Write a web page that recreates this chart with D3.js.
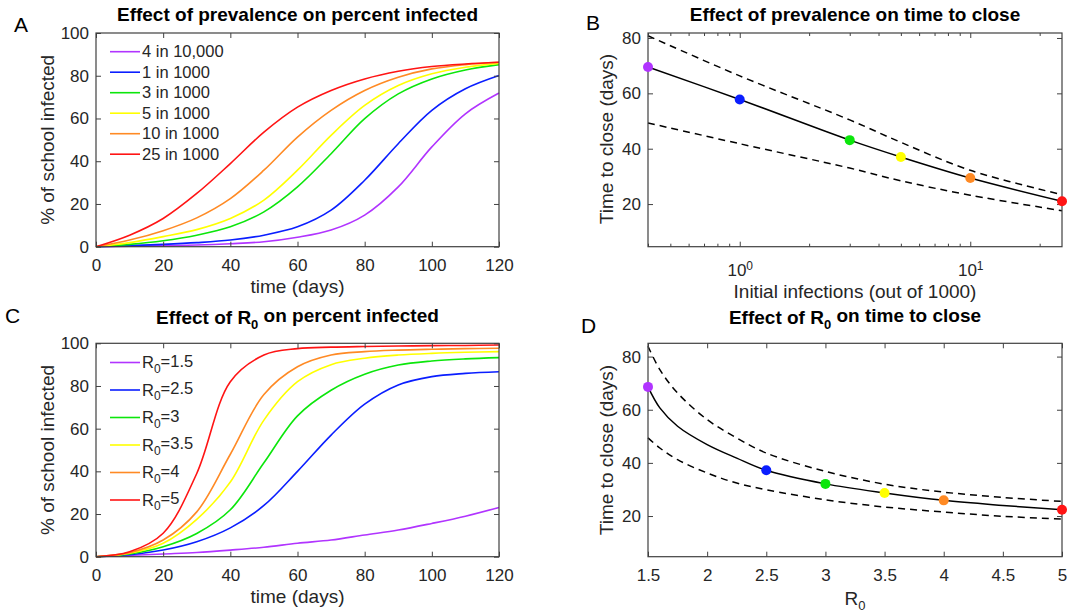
<!DOCTYPE html>
<html>
<head>
<meta charset="utf-8">
<script src="https://cdn.jsdelivr.net/npm/d3@7"></script>
<style>
    body { margin: 0; background: #fff; }
    svg { font-family: "Liberation Sans", Arial, sans-serif; }
</style>
</head>
<body>
<svg id="fig" width="1069" height="615"></svg>
<script>
// series colours (shared by all four panels)
const seriesColors = ["#b134ff", "#0a1eff", "#0be60b", "#ffff00", "#ff8a24", "#ff1414"];

// A: percent infected vs time, by prevalence
const days = [0, 10, 20, 30, 40, 50, 60, 70, 80, 90, 100, 110, 120];
const prevLabels = ["4 in 10,000", "1 in 1000", "3 in 1000", "5 in 1000", "10 in 1000", "25 in 1000"];
const prevCurves = [
    [0, 0.2, 0.5, 0.8, 1.4, 2.3, 4.4, 7.8, 14.8, 28, 46.7, 62.2, 71.9],
    [0, 0.5, 1.1, 1.9, 3.1, 5.4, 9.3, 17.1, 31.1, 48.2, 63.8, 73.9, 80.1],
    [0, 1.1, 2.8, 5.4, 9.3, 16.3, 28, 43.5, 59.9, 71.5, 78.5, 82.7, 85.2],
    [0, 1.9, 4.7, 8.0, 13.2, 21.8, 35.8, 52.1, 66.1, 75.4, 80.9, 84, 85.8],
    [0, 3.1, 7.5, 13.5, 22.5, 35.8, 51.3, 63.8, 73.1, 79.3, 83.2, 85.2, 86.3],
    [0, 5.4, 13.2, 24.9, 38.9, 53.6, 65.3, 73.1, 78.5, 82.1, 84.3, 85.5, 86.3]
];

// C: percent infected vs time, by R0
const r0Labels = ["1.5", "2.5", "3", "3.5", "4", "5"];
const r0Curves = [
    [0, 0.6, 1.3, 2.0, 3.1, 4.4, 6.3, 7.8, 10.2, 12.5, 15.6, 19.0, 23.1],
    [0, 0.9, 3.1, 7, 13.5, 24, 40, 57, 71.5, 80.5, 84.4, 85.9, 86.7],
    [0, 1.3, 4.7, 10.9, 22, 44, 66, 78, 85.5, 89.8, 91.7, 92.7, 93.3],
    [0, 1.6, 6.3, 17.5, 35, 64, 82, 90, 93, 94.5, 95.3, 95.8, 96.1],
    [0, 1.9, 7.8, 21, 48, 76, 89, 94.5, 96.1, 96.8, 97.2, 97.5, 97.7],
    [0, 2.3, 11, 39, 82, 94.5, 97.5, 98.2, 98.5, 98.7, 98.9, 99.0, 99.2]
];

// B: time to close vs initial infections (out of 1000)
const initInfections = [0.4, 1, 3, 5, 10, 25];
const closeByPrev = [69.5, 57.8, 43.1, 37.0, 29.4, 21.0];
const closeByPrevUpper = [80.8, 66.3, 50.4, 42.3, 32.2, 23.4];
const closeByPrevLower = [49.3, 41.8, 33.0, 28.4, 23.2, 17.6];

// D: time to close vs R0
const r0Grid = [1.5, 1.6, 1.75, 2, 2.25, 2.5, 3, 3.5, 4, 4.5, 5];
const closeByR0 = [68.6, 60.7, 53.8, 46.9, 41.8, 37.2, 32.1, 28.7, 25.9, 24.0, 22.4];
const closeByR0Upper = [83.9, 75.1, 66.3, 56.3, 49.4, 43.7, 36.8, 32.0, 29.0, 27.0, 25.5];
const closeByR0Lower = [49.4, 45.6, 41.2, 36.2, 32.4, 29.9, 26.1, 23.4, 21.5, 19.9, 18.9];
const r0Points = [1.5, 2.5, 3, 3.5, 4, 5];

const svg = d3.select("#fig");
const axisColor = "#404040";
const textColor = "#262626";

// 面板区域
const colLeft = {x0: 96, x1: 499};
const colRight = {x0: 648, x1: 1062};
const rowTop = {y0: 33, y1: 246.7};
const rowBottom = {y0: 343.3, y1: 556.7};

function styleAxis(g) {
    g.select(".domain").remove();
    g.selectAll(".tick line").attr("stroke", axisColor);
    g.selectAll(".tick text").attr("fill", textColor).style("font-size", "17px");
}

function drawFrame(g, x, y, box, opts) {
    const axes = {};
    axes.bottom = g.append("g")
        .attr("transform", `translate(0,${box.y1})`)
        .call(d3.axisBottom(x).tickValues(opts.xTicks).tickFormat(opts.xFormat).tickSizeInner(-5).tickSizeOuter(0).tickPadding(opts.xPad))
        .call(styleAxis);
    axes.top = g.append("g")
        .attr("transform", `translate(0,${box.y0})`)
        .call(d3.axisTop(x).tickValues(opts.xTicks).tickFormat("").tickSizeInner(-5).tickSizeOuter(0))
        .call(styleAxis);
    g.append("g")
        .attr("transform", `translate(${box.x0},0)`)
        .call(d3.axisLeft(y).tickValues(opts.yTicks).tickSizeInner(-5).tickSizeOuter(0).tickPadding(7))
        .call(styleAxis);
    g.append("g")
        .attr("transform", `translate(${box.x1},0)`)
        .call(d3.axisRight(y).tickValues(opts.yTicks).tickFormat("").tickSizeInner(-5).tickSizeOuter(0))
        .call(styleAxis);
    g.append("rect")
        .attr("x", box.x0).attr("y", box.y0)
        .attr("width", box.x1 - box.x0).attr("height", box.y1 - box.y0)
        .attr("fill", "none").attr("stroke", axisColor).attr("stroke-width", 1.2);
    return axes;
}

// text with an optional "R0" subscript part
function richText(sel, parts, subSize) {
    parts.forEach(p => {
        const t = sel.append("tspan").text(p.text);
        if (p.sub) t.attr("dy", "0.38em").style("font-size", subSize + "px");
        if (p.after) t.attr("dy", "-0.38em");
    });
}

function addTitle(box, parts, baseline, letter, letterX, letterY) {
    const t = svg.append("text")
        .attr("x", (box.x0 + box.x1) / 2).attr("y", baseline)
        .attr("text-anchor", "middle")
        .style("font-size", "19px").style("font-weight", "bold").attr("fill", "#000");
    richText(t, parts, 13);
    svg.append("text").attr("x", letterX).attr("y", letterY)
        .style("font-size", "21px").attr("fill", "#000").text(letter);
}

function addYLabel(x, cy, label) {
    svg.append("text")
        .attr("transform", `translate(${x},${cy}) rotate(-90)`)
        .attr("text-anchor", "middle")
        .style("font-size", "19px").attr("fill", textColor).text(label);
}

function drawTimePanel(box, hBox, curves, legendParts, rowGap, legendTop) {
    const x = d3.scaleLinear().domain([0, 120]).range([hBox.x0, hBox.x1]);
    const y = d3.scaleLinear().domain([0, 100]).range([box.y1, box.y0]);
    const g = svg.append("g");
    const line = d3.line().x((d, i) => x(days[i])).y(d => y(d)).curve(d3.curveCatmullRom.alpha(0.5));

    g.selectAll(".curve").data(curves).join("path")
        .attr("class", "curve")
        .attr("d", line)
        .attr("fill", "none")
        .attr("stroke", (d, i) => seriesColors[i])
        .attr("stroke-width", 1.6);

    drawFrame(g, x, y, {x0: hBox.x0, x1: hBox.x1, y0: box.y0, y1: box.y1}, {
        xTicks: d3.range(0, 121, 20), xFormat: d3.format("d"), xPad: 12,
        yTicks: d3.range(0, 101, 20)
    });

    // legend, no box
    const lg = g.append("g");
    legendParts.forEach((parts, i) => {
        const cy = legendTop + i * rowGap;
        lg.append("line").attr("x1", 110).attr("x2", 140).attr("y1", cy).attr("y2", cy)
            .attr("stroke", seriesColors[i]).attr("stroke-width", 1.6);
        const t = lg.append("text").attr("x", 142).attr("y", cy).attr("dy", "0.35em")
            .style("font-size", "16.5px").attr("fill", textColor);
        richText(t, parts, 12);
    });

    svg.append("text").attr("x", (hBox.x0 + hBox.x1) / 2).attr("y", box.y1 + 46.5)
        .attr("text-anchor", "middle").style("font-size", "19px").attr("fill", textColor)
        .text("time (days)");
    addYLabel(54, (box.y0 + box.y1) / 2, "% of school infected");
}

function drawClosePanel(box, x, y, grid, solid, upper, lower, pointsX, pointsY, axisOpts) {
    const g = svg.append("g");
    const line = d3.line().x((d, i) => x(grid[i])).y(d => y(d)).curve(d3.curveCatmullRom.alpha(0.5));

    [upper, lower].forEach(s => {
        g.append("path").attr("d", line(s)).attr("fill", "none")
            .attr("stroke", "#000").attr("stroke-width", 1.5).attr("stroke-dasharray", "7,5");
    });
    g.append("path").attr("d", line(solid)).attr("fill", "none")
        .attr("stroke", "#000").attr("stroke-width", 1.5);

    const axes = drawFrame(g, x, y, box, axisOpts);

    g.selectAll(".dot").data(pointsX).join("circle")
        .attr("class", "dot")
        .attr("cx", d => x(d))
        .attr("cy", (d, i) => y(pointsY[i]))
        .attr("r", 5)
        .attr("fill", (d, i) => seriesColors[i]);
    return axes;
}

// ---- A ----
drawTimePanel(rowTop, colLeft, prevCurves, prevLabels.map(s => [{text: s}]), 20.5, 51.7);
addTitle(colLeft, [{text: "Effect of prevalence on percent infected"}], 21, "A", 14, 31.7);

// ---- C ----
drawTimePanel(rowBottom, colLeft, r0Curves,
    r0Labels.map(s => [{text: "R"}, {text: "0", sub: true}, {text: "=" + s, after: true}]), 27.5, 362.5);
addTitle(colLeft, [{text: "Effect of R"}, {text: "0", sub: true}, {text: " on percent infected", after: true}], 324, "C", 5, 322.7);

// ---- B ----
const xB = d3.scaleLog().domain([0.4, 25]).range([colRight.x0, colRight.x1]);
const yB = d3.scaleLinear().domain([4.6, 81.8]).range([rowTop.y1, rowTop.y0]);
const isMajor = d => Math.abs(Math.log10(d) - Math.round(Math.log10(d))) < 1e-9;
const axesB = drawClosePanel({x0: colRight.x0, x1: colRight.x1, y0: rowTop.y0, y1: rowTop.y1}, xB, yB,
    initInfections, closeByPrev, closeByPrevUpper, closeByPrevLower, initInfections, closeByPrev,
    {xTicks: xB.ticks(), xFormat: d => isMajor(d) ? "10" : "", xPad: 17, yTicks: [20, 40, 60, 80]});
// minor ticks shorter, exponent labels on majors
axesB.bottom.selectAll(".tick").each(function (d) {
    const tk = d3.select(this);
    if (!isMajor(d)) tk.select("line").attr("y2", -3);
    else tk.select("text").append("tspan").attr("dy", "-0.5em").style("font-size", "12px")
        .text(Math.round(Math.log10(d)));
});
axesB.top.selectAll(".tick").each(function (d) {
    if (!isMajor(d)) d3.select(this).select("line").attr("y2", 3);
});
svg.append("text").attr("x", (colRight.x0 + colRight.x1) / 2).attr("y", 297.5)
    .attr("text-anchor", "middle").style("font-size", "19px").attr("fill", textColor)
    .text("Initial infections (out of 1000)");
addYLabel(613, 139, "Time to close (days)");
addTitle(colRight, [{text: "Effect of prevalence on time to close"}], 21, "B", 586, 30);

// ---- D ----
const xD = d3.scaleLinear().domain([1.5, 5]).range([colRight.x0, colRight.x1]);
const yD = d3.scaleLinear().domain([4.7, 85]).range([rowBottom.y1, rowBottom.y0]);
drawClosePanel({x0: colRight.x0, x1: colRight.x1, y0: rowBottom.y0, y1: rowBottom.y1}, xD, yD,
    r0Grid, closeByR0, closeByR0Upper, closeByR0Lower, r0Points,
    r0Points.map(p => closeByR0[r0Grid.indexOf(p)]),
    {xTicks: d3.range(1.5, 5.01, 0.5), xFormat: d3.format("~g"), xPad: 12, yTicks: [20, 40, 60, 80]});
const dLab = svg.append("text").attr("x", (colRight.x0 + colRight.x1) / 2).attr("y", 605)
    .attr("text-anchor", "middle").style("font-size", "19px").attr("fill", textColor);
richText(dLab, [{text: "R"}, {text: "0", sub: true}], 13);
addYLabel(613, (rowBottom.y0 + rowBottom.y1) / 2, "Time to close (days)");
addTitle(colRight, [{text: "Effect of R"}, {text: "0", sub: true}, {text: " on time to close", after: true}], 324, "D", 581, 333);
</script>
</body>
</html>
